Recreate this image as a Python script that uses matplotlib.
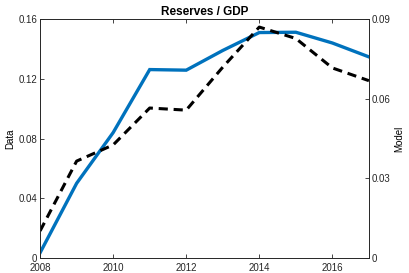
import matplotlib

matplotlib.use("Agg")
import matplotlib.pyplot as plt

years = list(range(2008, 2018))
data = [0.0035, 0.050, 0.084, 0.1262, 0.1258, 0.139, 0.151, 0.1512, 0.144, 0.1347]
model = [0.0102, 0.0365, 0.0426, 0.0565, 0.0557, 0.0719, 0.0870, 0.0827, 0.0716, 0.0668]

x_ticks = [2008, 2010, 2012, 2014, 2016]
left_ticks = [0, 0.04, 0.08, 0.12, 0.16]
left_labels = ["0", "0.04", "0.08", "0.12", "0.16"]
right_ticks = [0, 0.03, 0.06, 0.09]
right_labels = ["0", "0.03", "0.06", "0.09"]

plt.rcParams["font.family"] = ["Liberation Sans", "DejaVu Sans"]
EDGE = "#262626"

fig = plt.figure(figsize=(4.09, 2.73), dpi=100)
ax = fig.add_axes([0.098, 0.055, 0.804, 0.875])
ax.plot(years, data, color="#0072BD", lw=2.4, solid_joinstyle="miter")
ax.set_xlim(2008, 2017)
ax.set_ylim(0, 0.16)
ax.set_xticks(x_ticks)
ax.set_yticks(left_ticks)
ax.set_yticklabels(left_labels)
ax.set_ylabel("Data", fontsize=7, labelpad=2)
ax.tick_params(direction="in", labelsize=7, length=3, width=0.6, colors=EDGE,
               top=True, pad=2)
ax.tick_params(axis="x", pad=3.5)
ax.set_title("Reserves / GDP", fontsize=8.5, fontweight="bold", pad=3)

ax2 = ax.twinx()
ax2.plot(years, model, color="black", lw=2.2, ls=(0, (3.0, 1.9)))
ax2.set_ylim(0, 0.09)
ax2.set_yticks(right_ticks)
ax2.set_yticklabels(right_labels)
ax2.set_ylabel("Model", fontsize=7, labelpad=3)
ax2.tick_params(direction="in", labelsize=7, length=3, width=0.6, colors=EDGE, pad=2)

for a in (ax, ax2):
    for s in a.spines.values():
        s.set_linewidth(0.6)
        s.set_color(EDGE)

fig.savefig("out.png", dpi=100)
